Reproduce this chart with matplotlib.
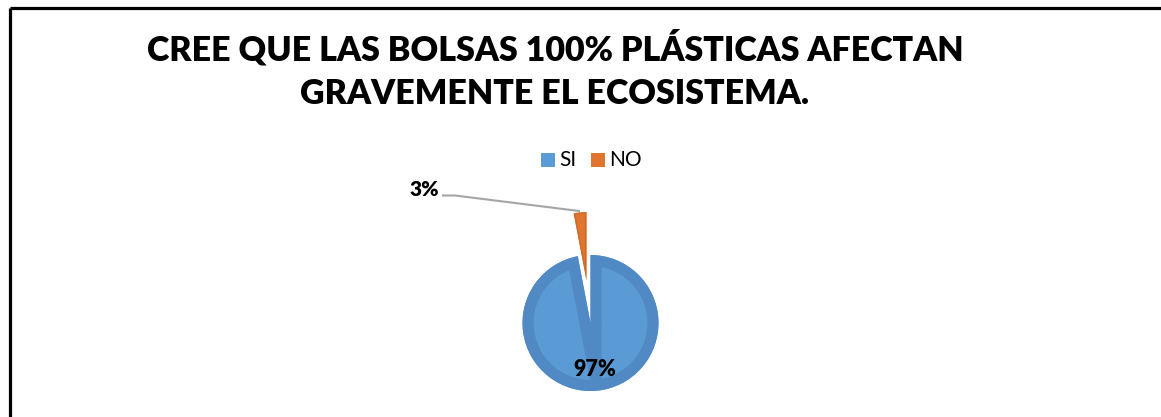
import matplotlib
matplotlib.use("Agg")
import matplotlib.pyplot as plt
from matplotlib.patches import Wedge, Rectangle
from matplotlib.lines import Line2D

W, H = 1161, 417

categories = ["SI", "NO"]
values = [97, 3]
title_lines = ["CREE QUE LAS BOLSAS 100% PLÁSTICAS AFECTAN", "GRAVEMENTE EL ECOSISTEMA."]

face_colors = ["#5B9BD5", "#DF752F"]
edge_colors = ["#5089C4", "#D06A28"]

FONT = "Lato"

fig = plt.figure(figsize=(W / 100, H / 100), dpi=100)
ax = fig.add_axes([0, 0, 1, 1])

def py(y):
    return H - y

cx, cy, r = 590.5, py(323), 68
wedges, _ = ax.pie(values, colors=face_colors, startangle=90, counterclock=False,
                   center=(cx, cy), radius=r, explode=[0, 43], frame=True,
                   wedgeprops=dict(linewidth=0))
ax.set_xlim(0, W)
ax.set_ylim(0, H)
ax.set_aspect("equal")
ax.axis("off")

# inner bevel-like darker border
for w, ec, lw in zip(wedges, edge_colors, [16, 2]):
    b = Wedge(w.center, w.r, w.theta1, w.theta2, facecolor="none",
              edgecolor=ec, linewidth=lw)
    ax.add_patch(b)
    b.set_clip_path(w)

# labels
ax.text(595, py(370), f"{values[0]}%", fontsize=15.5, fontweight="heavy",
        family=FONT, ha="center", va="center", color="black")
ax.text(439, py(189.5), f"{values[1]}%", fontsize=15, fontweight="heavy",
        family=FONT, ha="right", va="center", color="black")
ax.add_line(Line2D([443, 455, 579], [py(195.5), py(195.5), py(211)],
                   color="#A5A5A5", linewidth=1.5))

# legend
sq = 14
ax.add_patch(Rectangle((541, py(167)), sq, sq, facecolor=face_colors[0], edgecolor="none"))
ax.text(559, py(160), categories[0], fontsize=15, family=FONT, va="center", ha="left")
ax.add_patch(Rectangle((591, py(167)), sq, sq, facecolor=face_colors[1], edgecolor="none"))
ax.text(609, py(160), categories[1], fontsize=15, family=FONT, va="center", ha="left")

# title
ax.text(555, py(60), title_lines[0], fontsize=24.5, fontweight="heavy", family=FONT,
        ha="center", va="baseline", color="black")
ax.text(555, py(104), title_lines[1], fontsize=24.5, fontweight="heavy", family=FONT,
        ha="center", va="baseline", color="black")

# border (partial frame)
ax.add_line(Line2D([9.5, W], [py(7.5), py(7.5)], color="black", linewidth=2.3,
                   solid_capstyle="butt"))
ax.add_line(Line2D([9.5, 9.5], [py(7.5), 0], color="black", linewidth=2.3,
                   solid_capstyle="butt"))

fig.savefig("out.png", dpi=100)
